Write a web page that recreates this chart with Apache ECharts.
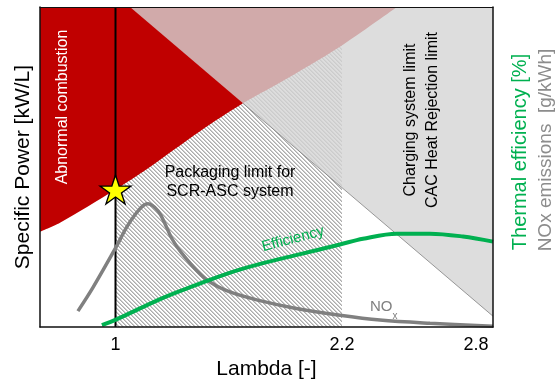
<!DOCTYPE html>
<html>
<head>
<meta charset="utf-8">
<script src="https://cdn.jsdelivr.net/npm/echarts@6/dist/echarts.min.js"></script>
<style>
  html, body { margin: 0; padding: 0; background: #fff; }
  #chart { width: 560px; height: 385px; }
</style>
</head>
<body>
<div id="chart"></div>
<script>
// Operating map: specific power vs. lambda (schematic, no y scale)
const FONT = '"Liberation Sans", Arial, sans-serif';

// Lambda axis: label positions on the schematic axis and their texts
const lambdaTickPositions = [1, 2.2, 2.91];
const lambdaTickLabels = ['1', '2.2', '2.8'];

// Abnormal-combustion (knock) limit: everything above it is not usable
const knockLimit = [[0.6, 29.8], [0.706, 32.6], [1.0, 43], [1.167, 49.4], [1.448, 61.2],
  [1.675, 69.9], [1.872, 76.4], [2.189, 87.6], [2.491, 100]];

// Charging system / CAC heat rejection limit (straight line)
const chargingLimit = [[1.077, 100], [3.0, 3.4]];
const chargingLimitVisible = [[1.675, 69.9], [3.0, 3.4]];

// SCR-ASC packaging limit: lambda band
const packagingBand = [[1.0, 100], [2.2, 100]];

// Stoichiometric line and operating point
const stoichLine = [[1, 0], [1, 100]];
const operatingPoint = [[1.0, 43]];

// NOx emissions curve
const noxCurve = [[0.801, 5.0], [0.881, 12.4], [1.008, 25.5], [1.061, 31.4], [1.13, 37.0],
  [1.172, 38.5], [1.225, 36.3], [1.262, 32.3], [1.299, 27.6], [1.352, 23.0], [1.474, 15.2],
  [1.596, 11.2], [1.776, 8.1], [1.951, 5.9], [2.189, 3.7], [2.401, 2.2], [2.666, 1.2], [3.0, 0.3]];

// Thermal efficiency curve
const efficiencyCurve = [[0.928, 0.6], [1.008, 2.5], [1.246, 9.0], [1.421, 13.0], [1.596, 16.8],
  [1.776, 19.9], [1.951, 22.4], [2.189, 25.8], [2.311, 27.6], [2.491, 29.2], [2.666, 29.2],
  [2.841, 28.3], [3.0, 26.7]];

// Diagonal hatch tile for the packaging band
function hatchTile() {
  const c = document.createElement('canvas');
  c.width = 4; c.height = 4;
  const ctx = c.getContext('2d');
  const img = ctx.createImageData(4, 4);
  for (let y = 0; y < 4; y++) {
    for (let x = 0; x < 4; x++) {
      const k = ((x - y) % 4 + 4) % 4;
      const v = k === 0 ? 172 : k === 1 ? 205 : 255;
      const i = (y * 4 + x) * 4;
      img.data[i] = v; img.data[i + 1] = v; img.data[i + 2] = v; img.data[i + 3] = 255;
    }
  }
  ctx.putImageData(img, 0, 0);
  return c;
}

const starPath = 'path://M50,0L61.23,34.55L97.55,34.55L68.17,55.9L79.39,90.45L50,69.1L20.61,90.45L31.83,55.9L2.45,34.55L38.77,34.55Z';

const chart = echarts.init(document.getElementById('chart'), null, { renderer: 'canvas' });

const borderLine = { show: true, onZero: false, lineStyle: { color: '#111', width: 1.5 } };

chart.setOption({
  animation: false,
  textStyle: { fontFamily: FONT },
  grid: { left: 40, right: 67, top: 7, bottom: 56 },
  xAxis: [{
    type: 'value', min: 0.6, max: 3.0, z: 10,
    axisLine: borderLine,
    axisTick: { show: false },
    splitLine: { show: false },
    axisLabel: {
      customValues: lambdaTickPositions,
      formatter: v => {
        const i = lambdaTickPositions.findIndex(p => Math.abs(p - v) < 1e-6);
        return i >= 0 ? lambdaTickLabels[i] : '';
      },
      color: '#000', fontSize: 18, margin: 9, fontFamily: FONT
    },
    name: 'Lambda [-]', nameLocation: 'middle', nameGap: 30,
    nameTextStyle: { color: '#000', fontSize: 21, fontFamily: FONT }
  }, {
    type: 'value', min: 0.6, max: 3.0, position: 'top', z: 10,
    axisLine: { show: true, onZero: false, lineStyle: { color: '#111', width: 1 } },
    axisTick: { show: false }, axisLabel: { show: false }, splitLine: { show: false }
  }],
  yAxis: [{
    type: 'value', min: 0, max: 100, z: 10,
    axisLine: borderLine,
    axisTick: { show: false }, axisLabel: { show: false }, splitLine: { show: false },
    name: 'Specific Power [kW/L]', nameLocation: 'middle', nameGap: 6,
    nameTextStyle: { color: '#000', fontSize: 21, fontFamily: FONT }
  }, {
    type: 'value', min: 0, max: 100, position: 'right', z: 10,
    axisLine: borderLine,
    axisTick: { show: false }, axisLabel: { show: false }, splitLine: { show: false }
  }],
  series: [
    {
      name: 'Packaging limit', type: 'line', z: 1, data: packagingBand,
      symbol: 'none', lineStyle: { opacity: 0 },
      areaStyle: { origin: 'start', opacity: 1, color: { image: hatchTile(), repeat: 'repeat' } }
    },
    {
      name: 'Abnormal combustion', type: 'line', z: 2, data: knockLimit, smooth: 0.3,
      symbol: 'none', lineStyle: { opacity: 0 },
      areaStyle: { origin: 'end', opacity: 1, color: '#C00000' }
    },
    {
      name: 'Charging limit', type: 'line', z: 3, data: chargingLimit,
      symbol: 'none', lineStyle: { opacity: 0 },
      areaStyle: { origin: 'end', opacity: 1, color: 'rgba(212,212,212,0.8)' }
    },
    {
      name: 'Charging limit edge', type: 'line', z: 4, data: chargingLimitVisible,
      symbol: 'none', lineStyle: { color: '#808080', width: 0.8 }
    },
    {
      name: 'Lambda 1', type: 'line', z: 5, data: stoichLine,
      symbol: 'none', lineStyle: { color: '#000', width: 2 }
    },
    {
      name: 'NOx', type: 'line', z: 6, data: noxCurve, smooth: 0.35,
      symbol: 'none', lineStyle: { color: '#808080', width: 3.5 }
    },
    {
      name: 'Efficiency', type: 'line', z: 7, data: efficiencyCurve, smooth: 0.35,
      symbol: 'none', lineStyle: { color: '#00B050', width: 4 }
    },
    {
      name: 'Operating point', type: 'scatter', z: 8, data: operatingPoint,
      symbol: starPath, symbolSize: [31, 29],
      itemStyle: { color: '#FFFF00', borderColor: '#000', borderWidth: 1.3, opacity: 1 }
    }
  ],
  graphic: [
    { type: 'text', x: 63, y: 107, rotation: Math.PI / 2, z: 100,
      style: { text: 'Abnormal combustion', fill: '#fff', font: '16px ' + FONT, align: 'center', verticalAlign: 'middle' } },
    { type: 'text', x: 230, y: 182, z: 100,
      style: { text: 'Packaging limit for\nSCR-ASC system', fill: '#000', font: '16px ' + FONT, align: 'center', verticalAlign: 'middle', lineHeight: 19 } },
    { type: 'text', x: 422, y: 120, rotation: Math.PI / 2, z: 100,
      style: { text: 'Charging system limit\nCAC Heat Rejection limit', fill: '#000', font: '16px ' + FONT, align: 'center', verticalAlign: 'middle', lineHeight: 22 } },
    { type: 'text', x: 293, y: 239, rotation: 0.26, z: 100,
      style: { text: 'Efficiency', fill: '#00B050', font: '15px ' + FONT, align: 'center', verticalAlign: 'middle' } },
    { type: 'text', x: 370, y: 307, z: 100,
      style: { text: 'NO', fill: '#808080', font: '15px ' + FONT, align: 'left', verticalAlign: 'middle' } },
    { type: 'text', x: 392.5, y: 316, z: 100,
      style: { text: 'x', fill: '#808080', font: '10px ' + FONT, align: 'left', verticalAlign: 'middle' } },
    { type: 'text', x: 520, y: 152, rotation: Math.PI / 2, z: 100,
      style: { text: 'Thermal efficiency [%]', fill: '#00B050', font: '20px ' + FONT, align: 'center', verticalAlign: 'middle' } },
    { type: 'text', x: 546, y: 150, rotation: Math.PI / 2, z: 100,
      style: { text: 'NOx emissions  [g/kWh]', fill: '#8C8C8C', font: '19px ' + FONT, align: 'center', verticalAlign: 'middle' } }
  ]
});
</script>
</body>
</html>
